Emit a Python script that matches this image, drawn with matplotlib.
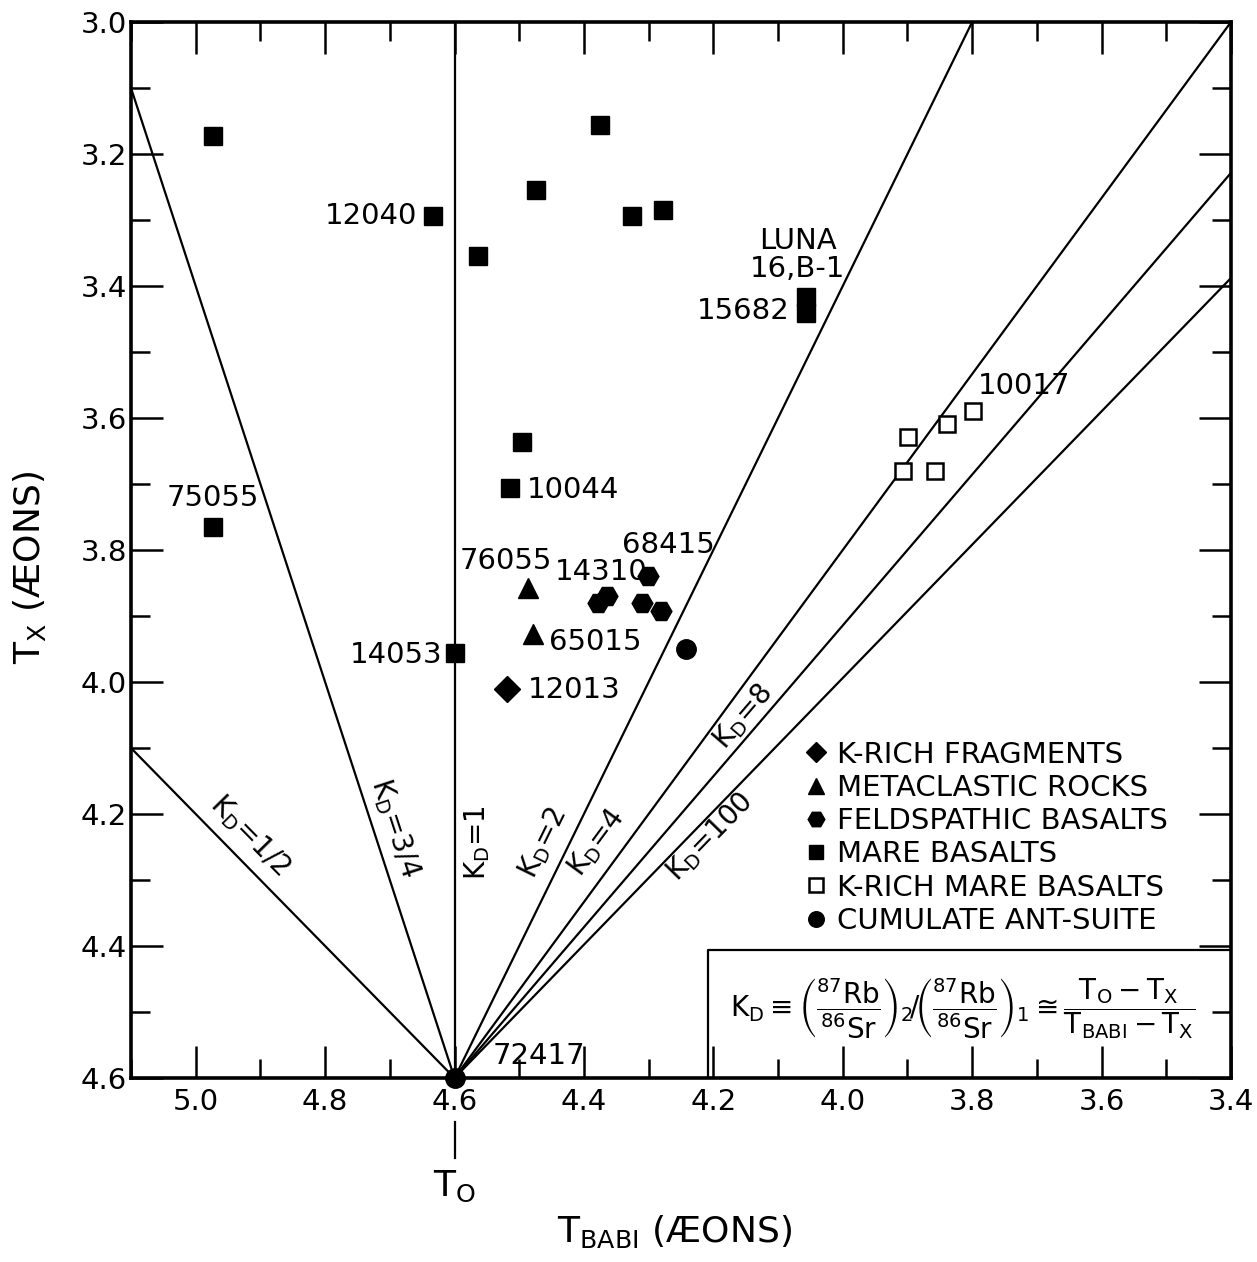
import numpy as np
import matplotlib.pyplot as plt
from matplotlib.transforms import blended_transform_factory

plt.rcParams['font.family'] = ['DejaVu Sans']
plt.rcParams['mathtext.fontset'] = 'dejavusans'
plt.rcParams['mathtext.default'] = 'regular'

# data (aeons)
T0 = 4.6
kd_values = [0.5, 0.75, 1, 2, 4, 8, 100]
kd_labels = ['1/2', '3/4', '1', '2', '4', '8', '100']
kd_label_x = [4.916, 4.692, 4.565, 4.463, 4.380, 4.154, 4.205]
kd_label_y = [4.232, 4.221, 4.244, 4.244, 4.244, 4.053, 4.235]

mare_x = [4.973, 4.633, 4.564, 4.474, 4.375, 4.326, 4.278, 4.057, 4.057, 4.496, 4.514, 4.973, 4.600]
mare_y = [3.173, 3.294, 3.355, 3.255, 3.156, 3.294, 3.285, 3.417, 3.441, 3.636, 3.706, 3.765, 3.956]
krich_mare_x = [3.899, 3.907, 3.857, 3.839, 3.799]
krich_mare_y = [3.629, 3.680, 3.680, 3.609, 3.589]
kfrag_x = [4.519]
kfrag_y = [4.010]
metaclastic_x = [4.486, 4.479]
metaclastic_y = [3.858, 3.928]
feldspathic_x = [4.378, 4.364, 4.301, 4.310, 4.281]
feldspathic_y = [3.880, 3.870, 3.839, 3.880, 3.892]
cumulate_x = [4.242, 4.600]
cumulate_y = [3.950, 4.600]

sample_names = ['12040', '75055', '10044', '14053', '12013', '65015', '76055',
                '14310', '68415', 'LUNA\n16,B-1', '15682', '10017', '72417']
name_x = [4.657, 4.973, 4.488, 4.619, 4.486, 4.454, 4.521, 4.445, 4.341, 4.070, 4.082, 3.791, 4.541]
name_y = [3.294, 3.721, 3.709, 3.959, 4.012, 3.939, 3.817, 3.833, 3.792, 3.353, 3.438, 3.552, 4.567]
name_ha = ['right', 'center', 'left', 'right', 'left', 'left', 'center',
           'left', 'left', 'center', 'right', 'left', 'left']

fig = plt.figure(figsize=(12.57, 12.62), dpi=100)
ax = fig.add_axes([131/1257, 184/1262, 1100/1257, 1056/1262])
ax.set_xlim(5.1, 3.4)
ax.set_ylim(4.6, 3.0)

# K_D reference lines through (T0, T0)
tx = np.array([3.0, T0])
for k in kd_values:
    ax.plot(tx + (T0 - tx) / k, tx, color='black', lw=1.6)

def screen_angle(k):
    p0 = ax.transData.transform((T0, T0))
    p1 = ax.transData.transform((3.4 + (T0 - 3.4) / k, 3.4))
    a = np.degrees(np.arctan2(p1[1] - p0[1], p1[0] - p0[0]))
    if a > 90.5:
        a -= 180
    return a

for k, lab, x, y in zip(kd_values, kd_labels, kd_label_x, kd_label_y):
    ax.text(x, y, r'$K_D$=' + lab, fontsize=20, rotation=screen_angle(k),
            rotation_mode='anchor', ha='center', va='center')

mk = dict(linestyle='none', color='black')
ax.plot(kfrag_x, kfrag_y, marker='D', ms=13, label='K-RICH FRAGMENTS', **mk)
ax.plot(metaclastic_x, metaclastic_y, marker='^', ms=14, label='METACLASTIC ROCKS', **mk)
ax.plot(feldspathic_x, feldspathic_y, marker='H', ms=15, label='FELDSPATHIC BASALTS', **mk)
ax.plot(mare_x, mare_y, marker='s', ms=13, label='MARE BASALTS', **mk)
ax.plot(krich_mare_x, krich_mare_y, marker='s', ms=12, mfc='white', mew=1.8,
        label='K-RICH MARE BASALTS', **mk)
ax.plot(cumulate_x, cumulate_y, marker='o', ms=14, label='CUMULATE ANT-SUITE',
        clip_on=False, **mk)

for s, x, y, ha in zip(sample_names, name_x, name_y, name_ha):
    ax.text(x, y, s, fontsize=21, ha=ha, va='center', linespacing=1.0)

leg = ax.legend(loc='upper left', bbox_to_anchor=(0.613, 0.3195), frameon=False,
                fontsize=21, handlelength=0.7, handletextpad=0.4,
                labelspacing=0.18, borderpad=0, borderaxespad=0, markerscale=0.8)

# formula box in lower right corner
ax.plot([4.208, 4.208, 3.4], [4.6, 4.406, 4.406], color='black', lw=1.6)
ax.text(3.815, 4.495,
        r'$K_D \equiv \left(\dfrac{^{87}Rb}{^{86}Sr}\right)_2 \!/\! \left(\dfrac{^{87}Rb}{^{86}Sr}\right)_1'
        r' \cong \dfrac{T_O - T_X}{T_{BABI} - T_X}$',
        fontsize=20, ha='center', va='center')

# axes styling
ax.set_xticks(np.round(np.arange(5.0, 3.35, -0.2), 1))
ax.set_xticks(np.round(np.arange(5.1, 3.35, -0.1), 1), minor=True)
ax.set_yticks(np.round(np.arange(3.0, 4.65, 0.2), 1))
ax.set_yticks(np.round(np.arange(3.1, 4.65, 0.2), 1), minor=True)
ax.xaxis.set_major_formatter(plt.FormatStrFormatter('%.1f'))
ax.yaxis.set_major_formatter(plt.FormatStrFormatter('%.1f'))
ax.tick_params(which='both', direction='in', top=True, right=True, width=1.8, labelsize=21)
ax.tick_params(which='major', length=23)
ax.tick_params(which='minor', length=14)
ax.tick_params(axis='x', pad=7)
ax.tick_params(axis='y', pad=3)
for sp in ax.spines.values():
    sp.set_linewidth(2.6)

# T0 marker under the axis
tr = blended_transform_factory(ax.transData, ax.transAxes)
ax.plot([T0, T0], [-0.042, -0.076], transform=tr, color='black', lw=1.6, clip_on=False)
ax.text(T0, -0.103, r'$T_O$', transform=tr, fontsize=26, ha='center', va='center')

fig.text(675/1257, 1 - 1232/1262, r'$T_{BABI}$ (ÆONS)', fontsize=26, ha='center', va='center')
fig.text(30/1257, 1 - 568/1262, r'$T_X$ (ÆONS)', fontsize=26, ha='center', va='center',
         rotation=90)

fig.savefig('out.png', dpi=100)
